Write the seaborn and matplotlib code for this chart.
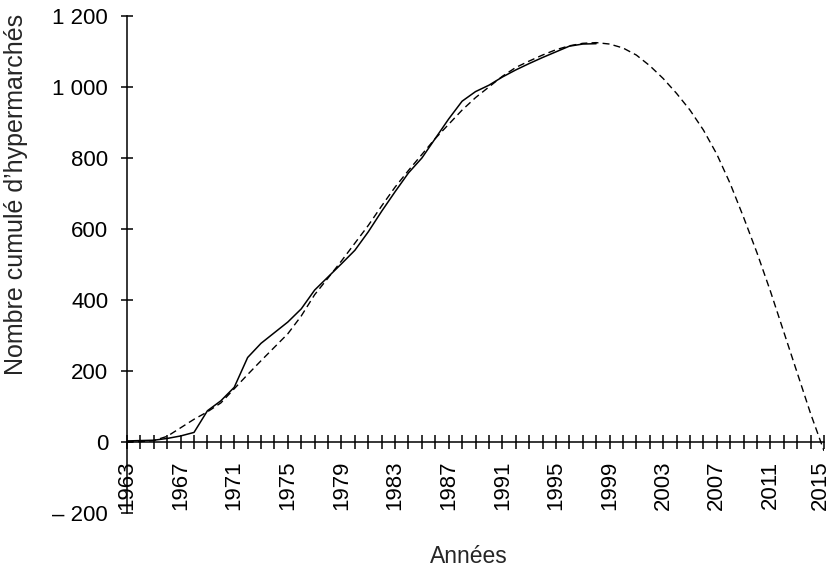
import matplotlib
matplotlib.use("Agg")
import matplotlib.pyplot as plt
import matplotlib.transforms as mtransforms
import seaborn as sns
import pandas as pd
import numpy as np

# ---- data ----
years_actual = list(range(1963, 1999))
actual = [3, 4, 5, 10, 17, 27, 88, 116, 154, 238, 278, 308, 338, 375, 428, 465,
          502, 540, 592, 650, 705, 758, 800, 855, 910, 960, 987, 1005, 1028, 1048,
          1066, 1083, 1099, 1115, 1121, 1122]

years_fit = list(range(1963, 2016))
fit = [0, 1, 4, 16, 40, 64, 85, 110, 150, 190, 229, 267, 305, 355, 415, 462,
       510, 560, 610, 665, 718, 765, 810, 855, 895, 935, 970, 1000, 1030, 1055,
       1073, 1090, 1105, 1116, 1123, 1125, 1121, 1110, 1090, 1060, 1024, 982,
       935, 879, 811, 728, 633, 533, 425, 310, 195, 80, -25]

y_ticks = [-200, 0, 200, 400, 600, 800, 1000, 1200]
y_tick_labels = ["\u2013 200", "0", "200", "400", "600", "800", "1 000", "1 200"]
x_label_years = list(range(1963, 2016, 4))

x_title = "Années"
y_title = "Nombre cumulé d\u2019hypermarchés"

df_actual = pd.DataFrame({"annee": years_actual, "valeur": actual})
df_fit = pd.DataFrame({"annee": years_fit, "valeur": fit})

sns.set_style("ticks")
plt.rcParams["font.family"] = ["Liberation Sans", "DejaVu Sans"]

fig = plt.figure(figsize=(8.31, 5.68), dpi=100)
ax = fig.add_axes([127 / 831, 1 - 513 / 568, 697 / 831, 497 / 568])

sns.lineplot(data=df_fit, x="annee", y="valeur", ax=ax, color="black",
             linewidth=1.0, linestyle=(0, (5, 3)))
sns.lineplot(data=df_actual, x="annee", y="valeur", ax=ax, color="black",
             linewidth=1.1)

ax.set_xlim(1963, 2015)
ax.set_ylim(-200, 1200)

ax.spines["top"].set_visible(False)
ax.spines["right"].set_visible(False)
ax.spines["bottom"].set_position(("data", 0))
for s in ("left", "bottom"):
    ax.spines[s].set_linewidth(1.1)
    ax.spines[s].set_color("black")

ax.set_xticks(years_fit)
ax.set_xticklabels([str(y) if y in x_label_years else "" for y in years_fit],
                   rotation=90)
ax.set_yticks(y_ticks)
ax.set_yticklabels(y_tick_labels)

ax.tick_params(axis="x", direction="inout", length=10.5, width=1.1,
               pad=8, labelsize=16, colors="black")
ax.tick_params(axis="y", direction="inout", length=9, width=1.1,
               pad=9, labelsize=16, colors="black")

# nudge the last year label so it stays inside the picture
last_label = ax.get_xticklabels()[-1]
last_label.set_transform(last_label.get_transform() +
                         mtransforms.ScaledTranslation(-4 / 100, 0, fig.dpi_scale_trans))

ax.set_xlabel(x_title, fontsize=16.5)
ax.set_ylabel(y_title, fontsize=18)
ax.xaxis.set_label_coords(0.49, -0.088)
ax.yaxis.set_label_coords(-0.159, 0.640)
ax.xaxis.label.set_va("center")
ax.yaxis.label.set_va("center")

fig.savefig("out.png", dpi=100)
